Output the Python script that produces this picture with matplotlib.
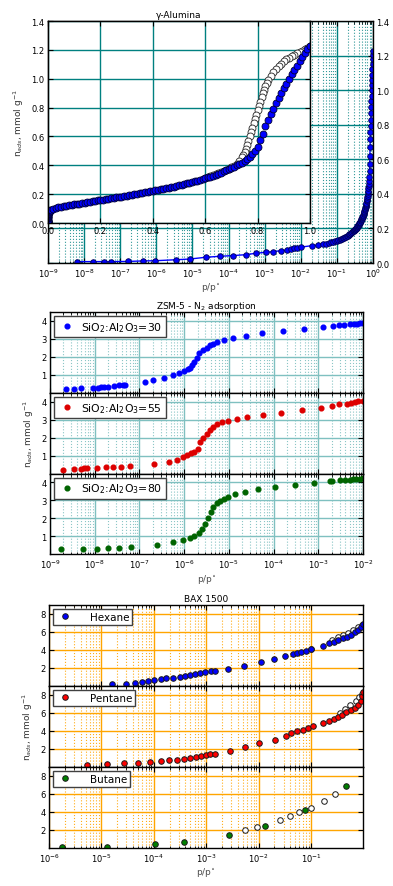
import matplotlib
matplotlib.use("Agg")
import matplotlib.pyplot as plt
import numpy as np
from matplotlib.ticker import FixedLocator, NullFormatter, LogFormatterSciNotation

plt.rcParams["font.family"] = ["DejaVu Sans"]
plt.rcParams["font.size"] = 6
plt.rcParams["xtick.direction"] = "in"
plt.rcParams["ytick.direction"] = "in"
plt.rcParams["xtick.top"] = True
plt.rcParams["ytick.right"] = True
plt.rcParams["xtick.major.size"] = 3.5
plt.rcParams["ytick.major.size"] = 3.5
plt.rcParams["xtick.minor.size"] = 1.8
plt.rcParams["ytick.minor.size"] = 1.8
plt.rcParams["xtick.major.pad"] = 2.5
plt.rcParams["ytick.major.pad"] = 2.5
plt.rcParams["axes.linewidth"] = 1.0

# ---------------- gamma-alumina isotherm ----------------
alu_ads_p = [6.3e-9, 1.8e-8, 3.5e-8, 5.6e-8, 1.6e-7, 4.3e-7, 8.9e-7, 3.6e-6, 8.5e-6,
             2.3e-5, 5.8e-5, 1.35e-4, 2.95e-4, 5.6e-4, 1.07e-3, 1.74e-3, 2.75e-3,
             4.1e-3, 5.2e-3, 6.5e-3, 8.0e-3,
             0.01, 0.02, 0.03, 0.04, 0.05, 0.06, 0.07, 0.08, 0.09, 0.10,
             0.11, 0.12, 0.13, 0.14, 0.15, 0.16, 0.17, 0.18, 0.19, 0.20,
             0.21, 0.22, 0.23, 0.24, 0.25, 0.26, 0.27, 0.28, 0.29, 0.30,
             0.31, 0.32, 0.33, 0.34, 0.35, 0.36, 0.37, 0.38, 0.39, 0.40,
             0.41, 0.42, 0.43, 0.44, 0.45, 0.46, 0.47, 0.48, 0.49, 0.50,
             0.51, 0.52, 0.53, 0.54, 0.55, 0.56, 0.57, 0.58, 0.59, 0.60,
             0.61, 0.62, 0.63, 0.64, 0.65, 0.66, 0.67, 0.68, 0.69, 0.70,
             0.71, 0.72, 0.73, 0.74, 0.75, 0.76, 0.77, 0.78, 0.79, 0.80,
             0.81, 0.82, 0.83, 0.84, 0.85, 0.86, 0.87, 0.88, 0.89, 0.90,
             0.91, 0.92, 0.93, 0.94, 0.95, 0.96, 0.97, 0.98, 0.99, 1.00]
alu_ads_n = [0.008, 0.008, 0.008, 0.008, 0.009, 0.012, 0.013, 0.019, 0.023,
             0.033, 0.039, 0.043, 0.048, 0.056, 0.062, 0.066, 0.071,
             0.075, 0.080, 0.084, 0.088,
             0.092, 0.100, 0.104, 0.108, 0.112, 0.115, 0.119, 0.122, 0.126, 0.129,
             0.132, 0.135, 0.138, 0.141, 0.144, 0.147, 0.150, 0.153, 0.156, 0.159,
             0.162, 0.165, 0.168, 0.171, 0.174, 0.177, 0.180, 0.183, 0.186, 0.189,
             0.192, 0.195, 0.198, 0.201, 0.205, 0.208, 0.212, 0.215, 0.219, 0.222,
             0.226, 0.229, 0.233, 0.236, 0.240, 0.244, 0.248, 0.252, 0.256, 0.260,
             0.265, 0.269, 0.274, 0.279, 0.284, 0.289, 0.294, 0.299, 0.305, 0.310,
             0.316, 0.322, 0.329, 0.335, 0.342, 0.349, 0.357, 0.364, 0.372, 0.381,
             0.390, 0.399, 0.409, 0.419, 0.431, 0.444, 0.459, 0.475, 0.500, 0.530,
             0.575, 0.620, 0.670, 0.715, 0.755, 0.790, 0.830, 0.865, 0.900, 0.935,
             0.965, 1.000, 1.030, 1.060, 1.090, 1.120, 1.150, 1.180, 1.205, 1.225]

alu_des_p = [1.0, 0.99, 0.98, 0.97, 0.96, 0.95, 0.94, 0.93, 0.92, 0.91, 0.90, 0.89,
             0.88, 0.87, 0.86, 0.85, 0.84, 0.835, 0.83, 0.825, 0.82, 0.815, 0.81,
             0.805, 0.80, 0.795, 0.79, 0.785, 0.78, 0.775, 0.77, 0.765, 0.76, 0.755,
             0.75, 0.745, 0.74, 0.73, 0.72, 0.71, 0.70, 0.69, 0.68, 0.67, 0.66,
             0.65, 0.64, 0.63, 0.62, 0.61, 0.60]
alu_des_n = [1.225, 1.215, 1.205, 1.195, 1.185, 1.175, 1.165, 1.155, 1.145, 1.135, 1.120, 1.105,
             1.090, 1.070, 1.050, 1.020, 0.990, 0.970, 0.950, 0.925, 0.900, 0.870, 0.840,
             0.810, 0.780, 0.750, 0.720, 0.690, 0.660, 0.630, 0.600, 0.570, 0.540, 0.515,
             0.490, 0.470, 0.455, 0.430, 0.410, 0.395, 0.385, 0.376, 0.368, 0.360, 0.352,
             0.345, 0.338, 0.331, 0.325, 0.319, 0.313]

# ---------------- ZSM-5 N2 adsorption ----------------
zsm30_p = [2.3e-9, 3.5e-9, 4.9e-9, 9.3e-9, 1.2e-8, 1.35e-8, 1.6e-8, 2.0e-8, 2.7e-8,
           3.5e-8, 4.3e-8, 4.8e-8, 1.3e-7, 2.0e-7, 3.6e-7, 5.5e-7, 7.8e-7, 1.0e-6,
           1.2e-6, 1.35e-6, 1.5e-6, 1.7e-6, 1.9e-6, 2.1e-6, 2.7e-6, 3.2e-6, 3.8e-6,
           4.4e-6, 5.4e-6, 7.6e-6, 1.25e-5, 2.45e-5, 5.6e-5, 1.6e-4, 4.7e-4, 1.26e-3,
           2.1e-3, 2.95e-3, 3.8e-3, 5.0e-3, 6.2e-3, 7.2e-3, 8.7e-3, 1.0e-2]
zsm30_n = [0.18, 0.22, 0.24, 0.24, 0.28, 0.30, 0.32, 0.33, 0.37,
           0.41, 0.43, 0.44, 0.57, 0.70, 0.83, 0.96, 1.09, 1.22,
           1.30, 1.37, 1.52, 1.70, 1.94, 2.18, 2.35, 2.50, 2.63,
           2.72, 2.81, 2.91, 3.03, 3.16, 3.29, 3.42, 3.53, 3.63,
           3.68, 3.74, 3.76, 3.79, 3.81, 3.83, 3.85, 3.87]

zsm55_p = [2.0e-9, 3.5e-9, 4.9e-9, 5.8e-9, 6.8e-9, 1.15e-8, 1.8e-8, 2.6e-8, 3.9e-8,
           6.2e-8, 2.1e-7, 4.5e-7, 7.1e-7, 9.3e-7, 1.15e-6, 1.4e-6, 1.65e-6, 2.0e-6,
           2.3e-6, 2.7e-6, 3.2e-6, 3.8e-6, 4.5e-6, 5.4e-6, 6.9e-6, 9.5e-6, 1.5e-5,
           2.6e-5, 5.8e-5, 1.45e-4, 4.3e-4, 1.15e-3, 2.0e-3, 2.95e-3, 4.4e-3, 5.4e-3,
           6.5e-3, 7.8e-3, 1.0e-2]
zsm55_n = [0.21, 0.25, 0.27, 0.29, 0.31, 0.32, 0.34, 0.36, 0.38,
           0.42, 0.53, 0.66, 0.77, 0.92, 1.03, 1.12, 1.21, 1.36,
           1.73, 1.96, 2.18, 2.42, 2.60, 2.75, 2.84, 2.92, 3.01,
           3.14, 3.25, 3.38, 3.51, 3.64, 3.75, 3.84, 3.89, 3.92,
           3.98, 4.01, 4.05]

zsm80_p = [1.75e-9, 5.6e-9, 1.1e-8, 2.0e-8, 3.5e-8, 6.5e-8, 2.45e-7, 5.5e-7, 9.3e-7,
           1.35e-6, 1.7e-6, 2.1e-6, 2.45e-6, 2.95e-6, 3.45e-6, 4.0e-6, 4.5e-6, 5.4e-6,
           6.3e-6, 7.6e-6, 9.8e-6, 1.38e-5, 2.3e-5, 4.6e-5, 1.07e-4, 2.95e-4, 8.1e-4,
           1.82e-3, 2.0e-3, 3.1e-3, 4.0e-3, 5.0e-3, 6.0e-3, 7.0e-3, 8.5e-3, 1.0e-2]
zsm80_n = [0.31, 0.31, 0.32, 0.36, 0.38, 0.40, 0.53, 0.68, 0.81,
           0.92, 1.04, 1.19, 1.42, 1.69, 2.03, 2.34, 2.62, 2.84,
           2.99, 3.08, 3.21, 3.34, 3.49, 3.62, 3.73, 3.88, 3.99,
           4.08, 4.09, 4.12, 4.14, 4.16, 4.18, 4.20, 4.21, 4.23]

# ---------------- BAX 1500 ----------------
hex_p = [1.6e-5, 2.9e-5, 4.3e-5, 6.0e-5, 7.9e-5, 1.02e-4, 1.35e-4, 1.74e-4, 2.3e-4,
         3.1e-4, 4.0e-4, 4.9e-4, 6.2e-4, 7.6e-4, 9.5e-4, 1.23e-3, 1.48e-3, 2.6e-3,
         5.2e-3, 1.1e-2, 2.0e-2, 3.2e-2, 4.5e-2, 5.4e-2, 6.5e-2, 7.9e-2, 1.0e-1,
         1.66e-1, 2.2e-1, 2.75e-1, 3.3e-1, 4.1e-1, 4.9e-1, 5.9e-1, 6.8e-1, 7.9e-1,
         9.1e-1, 9.6e-1]
hex_n = [0.17, 0.24, 0.31, 0.42, 0.53, 0.64, 0.75, 0.83, 0.90,
         1.01, 1.08, 1.19, 1.31, 1.41, 1.49, 1.60, 1.67, 1.85,
         2.18, 2.62, 2.95, 3.25, 3.47, 3.65, 3.76, 3.87, 4.05,
         4.45, 4.71, 4.89, 5.08, 5.26, 5.44, 5.66, 5.92, 6.21,
         6.54, 6.83]
hex_des_p = [0.10, 0.25, 0.32, 0.40, 0.50, 0.63, 0.79, 0.93]
hex_des_n = [4.10, 5.10, 5.40, 5.65, 5.90, 6.20, 6.50, 6.80]

pent_p = [5.2e-6, 1.3e-5, 2.7e-5, 5.0e-5, 8.3e-5, 1.35e-4, 1.95e-4, 2.8e-4, 3.8e-4,
          4.9e-4, 6.3e-4, 7.9e-4, 1.0e-3, 1.2e-3, 1.45e-3, 2.9e-3, 5.5e-3, 1.02e-2,
          2.05e-2, 3.3e-2, 4.2e-2, 5.4e-2, 6.9e-2, 8.7e-2, 1.07e-1, 1.66e-1, 2.2e-1,
          2.75e-1, 3.25e-1, 3.9e-1, 4.7e-1, 5.75e-1, 6.8e-1, 7.9e-1, 8.9e-1, 9.5e-1,
          9.9e-1]
pent_n = [0.23, 0.31, 0.38, 0.45, 0.53, 0.64, 0.71, 0.78, 0.86,
          0.97, 1.04, 1.15, 1.26, 1.37, 1.44, 1.77, 2.18, 2.58,
          3.02, 3.41, 3.71, 3.93, 4.10, 4.30, 4.48, 4.81, 5.07,
          5.31, 5.53, 5.79, 6.05, 6.26, 6.53, 6.89, 7.25, 7.87,
          8.30]
pent_des_p = [0.35, 0.45, 0.56, 0.71, 0.83, 0.93]
pent_des_n = [6.00, 6.40, 6.90, 7.30, 7.70, 8.10]

but_p = [1.75e-6, 1.3e-5, 1.05e-4, 3.8e-4, 2.7e-3, 1.35e-2, 7.8e-2, 4.7e-1]
but_n = [0.04, 0.11, 0.37, 0.59, 1.40, 2.44, 4.15, 6.90]
but_des_p = [5.6e-3, 9.5e-3, 2.6e-2, 4.0e-2, 6.0e-2, 1.0e-1, 1.74e-1, 2.9e-1]
but_des_n = [1.96, 2.25, 3.13, 3.49, 3.97, 4.45, 5.14, 5.98]

W, H = 393, 887
fig = plt.figure(figsize=(W / 100, H / 100), dpi=100)


def box(x0, y0, x1, y1):
    return [x0 / W, 1 - y1 / H, (x1 - x0) / W, (y1 - y0) / H]


def log_grid(ax, lo, hi, color, minor_alpha=1.0, major_lw=1.0):
    decades = np.arange(lo, hi + 1)
    ax.xaxis.set_major_locator(FixedLocator(10.0 ** decades))
    ax.xaxis.set_major_formatter(LogFormatterSciNotation())
    minors = [m * 10.0 ** d for d in decades[:-1] for m in range(2, 10)]
    ax.xaxis.set_minor_locator(FixedLocator(minors))
    ax.xaxis.set_minor_formatter(NullFormatter())
    ax.grid(True, which="major", color=color, linestyle="-", linewidth=major_lw)
    ax.grid(True, which="minor", axis="x", color=color, linestyle=":",
            linewidth=0.8, alpha=minor_alpha)
    ax.set_axisbelow(True)


ylab = r"n$_{ads}$, mmol g$^{-1}$"
xlab = r"p/p$^{\circ}$"

# ---------- top panel ----------
teal = "#008080"
ax_main = fig.add_axes(box(48, 22, 373, 264))
ax_main.set_xscale("log")
ax_main.set_xlim(1e-9, 1.0)
ax_main.set_ylim(0, 1.4)
log_grid(ax_main, -9, 0, teal, minor_alpha=0.8)
ax_main.yaxis.set_major_locator(FixedLocator(np.arange(0, 1.41, 0.2)))
ax_main.tick_params(axis="y", labelleft=False, labelright=True)
ax_main.plot(alu_ads_p, alu_ads_n, "-o", color="blue", lw=1.0, ms=4,
             mfc="blue", mec="#000050", mew=0.6)
ax_main.set_xlabel(xlab, fontsize=6.5, color="0.3", labelpad=1)

ax_in = fig.add_axes(box(48, 22, 310, 224))
ax_in.set_zorder(3)
ax_in.set_facecolor("white")
ax_in.set_xlim(0, 1.0)
ax_in.set_ylim(0, 1.4)
ax_in.xaxis.set_major_locator(FixedLocator(np.arange(0, 1.01, 0.2)))
ax_in.yaxis.set_major_locator(FixedLocator(np.arange(0, 1.41, 0.2)))
ax_in.grid(True, color=teal, linestyle="-", linewidth=1.0)
ax_in.set_axisbelow(True)
ax_in.plot(alu_des_p, alu_des_n, "o", ms=5, mfc="white", mec="0.15", mew=0.6)
ax_in.plot(alu_ads_p, alu_ads_n, "o", ms=5, mfc="blue", mec="#000030", mew=0.6)
ax_in.set_ylabel(ylab, fontsize=6.5, color="0.2", labelpad=4)
ax_in.set_title("γ-Alumina", fontsize=6.5, pad=3)

# ---------- ZSM-5 panel ----------
teal_l = "#7fc0c0"
zsm = [(zsm30_p, zsm30_n, "blue", r"SiO$_2$:Al$_2$O$_3$=30"),
       (zsm55_p, zsm55_n, "#dd0000", r"SiO$_2$:Al$_2$O$_3$=55"),
       (zsm80_p, zsm80_n, "#006400", r"SiO$_2$:Al$_2$O$_3$=80")]
tops = [312.7, 393.6, 474.5]
zaxes = []
for (px, py, col, lab), t in zip(zsm, tops):
    ax = fig.add_axes(box(50, t, 363, t + 80.9))
    ax.set_xscale("log")
    ax.set_xlim(1e-9, 1e-2)
    ax.set_ylim(0, 4.5)
    log_grid(ax, -9, -2, teal_l, minor_alpha=0.9)
    ax.yaxis.set_major_locator(FixedLocator([1, 2, 3, 4]))
    ax.plot(px, py, "o", color=col, ms=3.4, mec=col, label=lab)
    leg = ax.legend(loc="upper left", numpoints=1, fontsize=7.8, fancybox=False,
                    borderpad=0.35, handletextpad=0.5, borderaxespad=0.4,
                    handlelength=1.6, framealpha=1)
    leg.get_frame().set_edgecolor("0.25")
    if t != tops[-1]:
        ax.tick_params(axis="x", labelbottom=False)
    zaxes.append(ax)
zaxes[0].set_title(r"ZSM-5 - N$_2$ adsorption", fontsize=6.5, pad=3)
zaxes[1].set_ylabel(ylab, fontsize=6.5, color="0.2", labelpad=4)
zaxes[2].set_xlabel(xlab, fontsize=6.5, color="0.3", labelpad=1)

# ---------- BAX 1500 panel ----------
orange = "#ffa500"
bax = [(hex_p, hex_n, hex_des_p, hex_des_n, "blue", "Hexane"),
       (pent_p, pent_n, pent_des_p, pent_des_n, "red", "Pentane"),
       (but_p, but_n, but_des_p, but_des_n, "green", "Butane")]
tops = [605.7, 686.7, 767.7]
baxes = []
for (px, py, dp, dn, col, lab), t in zip(bax, tops):
    ax = fig.add_axes(box(49, t, 363, t + 81))
    ax.set_xscale("log")
    ax.set_xlim(1e-6, 0.98)
    ax.set_ylim(0, 9)
    log_grid(ax, -6, -1, orange, minor_alpha=0.9)
    ax.yaxis.set_major_locator(FixedLocator([2, 4, 6, 8]))
    ax.plot(dp, dn, "o", ms=4, mfc="white", mec="0.1", mew=0.7)
    ax.plot(px, py, "o", ms=4, mfc=col, mec="0.1", mew=0.7, label=lab)
    leg = ax.legend(loc="upper left", numpoints=1, fontsize=7.5, fancybox=False,
                    borderpad=0.3, handletextpad=1.6, borderaxespad=0.4,
                    handlelength=1.6, framealpha=1)
    leg.get_frame().set_edgecolor("0.25")
    if t != tops[-1]:
        ax.tick_params(axis="x", labelbottom=False)
    baxes.append(ax)
baxes[0].set_title("BAX 1500", fontsize=6.5, pad=3)
baxes[1].set_ylabel(ylab, fontsize=6.5, color="0.2", labelpad=4)
baxes[2].set_xlabel(xlab, fontsize=6.5, color="0.3", labelpad=1)

fig.savefig("out.png", dpi=100)
